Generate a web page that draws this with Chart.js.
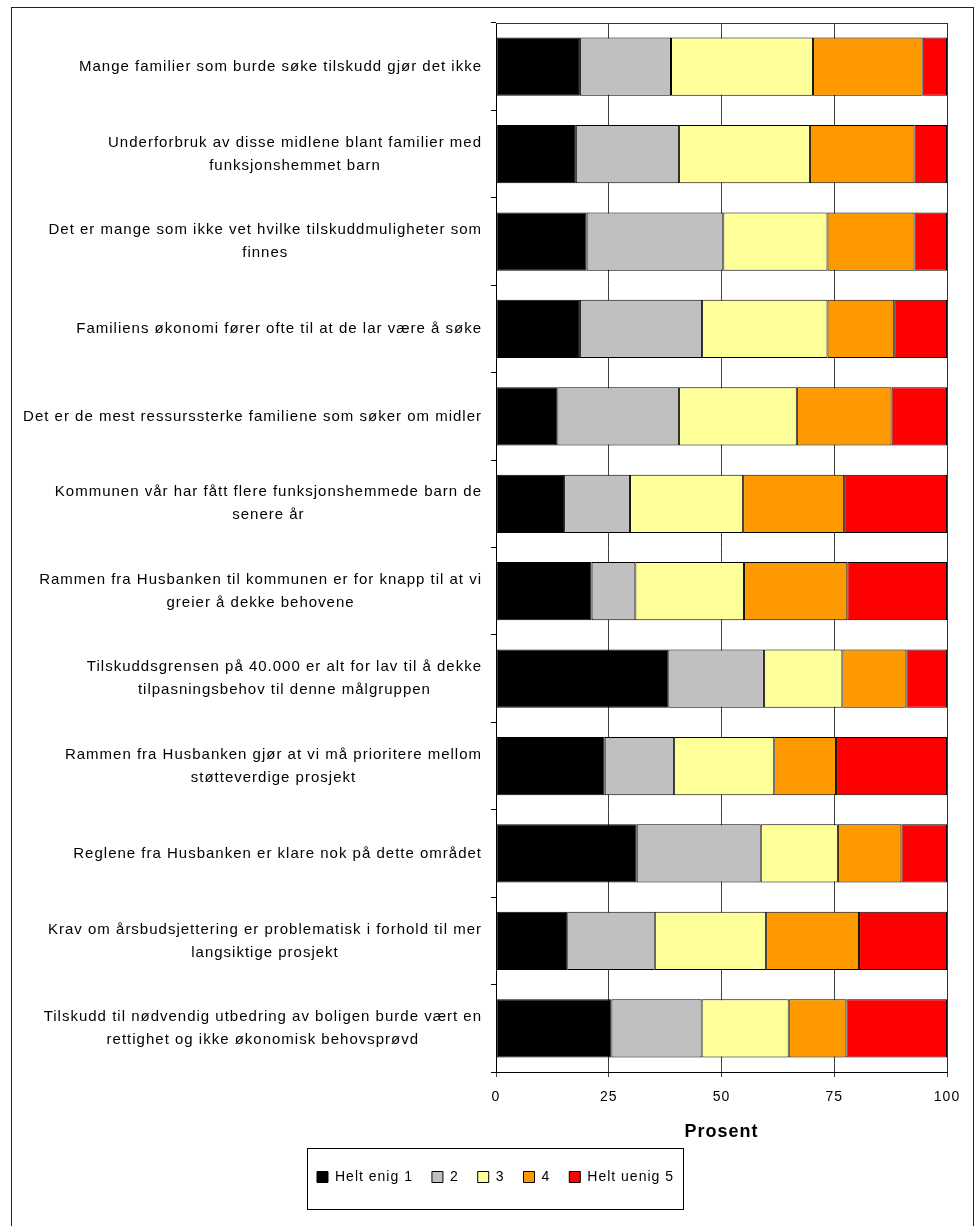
<!DOCTYPE html>
<html>
<head>
<meta charset="utf-8">
<script src="https://cdn.jsdelivr.net/npm/chart.js@4.4.1/dist/chart.umd.min.js"></script>
<style>
  html, body { margin: 0; padding: 0; background: #fff; }
  canvas { display: block; }
</style>
</head>
<body>
<canvas id="myChart" width="976" height="1226"></canvas>
<script>
// Utsagn (kategorier), en linje per element
const kategorier = [
  ["Mange familier som burde søke tilskudd gjør det ikke"],
  ["Underforbruk av disse midlene blant familier med", "funksjonshemmet barn"],
  ["Det er mange som ikke vet hvilke tilskuddmuligheter som", "finnes"],
  ["Familiens økonomi fører ofte til at de lar være å søke"],
  ["Det er de mest ressurssterke familiene som søker om midler"],
  ["Kommunen vår har fått flere funksjonshemmede barn de", "senere år"],
  ["Rammen fra Husbanken til kommunen er for knapp til at vi", "greier å dekke behovene"],
  ["Tilskuddsgrensen på 40.000 er alt for lav til å dekke", "tilpasningsbehov til denne målgruppen"],
  ["Rammen fra Husbanken gjør at vi må prioritere mellom", "støtteverdige prosjekt"],
  ["Reglene fra Husbanken er klare nok på dette området"],
  ["Krav om årsbudsjettering er problematisk i forhold til mer", "langsiktige prosjekt"],
  ["Tilskudd til nødvendig utbedring av boligen burde vært en", "rettighet og ikke økonomisk behovsprøvd"]
];

const serieNavn = ["Helt enig 1", "2", "3", "4", "Helt uenig 5"];
const farger = ["#000000", "#C0C0C0", "#FFFF99", "#FF9900", "#FF0000"];

// Prosent per svaralternativ
const heltEnig1 = [18.6, 17.7, 20.1, 18.6, 13.6, 15.1, 21.2, 38.2, 24.1, 31.2, 15.8, 25.6];
const svar2     = [20.2, 22.9, 30.3, 27.1, 27.0, 14.6,  9.7, 21.2, 15.4, 27.5, 19.4, 20.0];
const svar3     = [31.5, 29.0, 23.1, 27.8, 26.1, 25.1, 24.1, 17.4, 22.2, 17.1, 24.7, 19.3];
const svar4     = [24.3, 23.2, 19.3, 14.8, 21.0, 22.4, 22.9, 14.2, 13.7, 14.1, 20.6, 12.8];
const heltUenig5 = [5.4,  7.2,  7.2, 11.7, 12.3, 22.8, 22.1,  9.0, 24.6, 10.1, 19.5, 22.3];

const xTicks = [0, 25, 50, 75, 100];

const serier = [heltEnig1, svar2, svar3, svar4, heltUenig5];
const ctx = document.querySelector("#myChart");

// letterSpacing for a ligne Excel-teksten litt
const spacing = {
  id: "spacing",
  beforeLayout(chart) { chart.ctx.letterSpacing = "1px"; },
  beforeDraw(chart) { chart.ctx.letterSpacing = "1px"; }
};

// kategoritekster, sentrert linje for linje og høyrejustert mot aksen
const kategoriTekst = {
  id: "kategoriTekst",
  afterDraw(chart) {
    const c = chart.ctx;
    const y = chart.scales.y;
    c.save();
    c.letterSpacing = "1px";
    c.font = "15px 'Liberation Sans', Arial, sans-serif";
    c.fillStyle = "#000";
    c.textAlign = "center";
    c.textBaseline = "middle";
    const right = chart.chartArea.left - 14;
    const lh = 23;
    kategorier.forEach((linjer, i) => {
      const midt = y.getPixelForValue(i);
      const bredde = Math.max(...linjer.map(l => c.measureText(l).width));
      const cx = right - bredde / 2;
      linjer.forEach((l, j) => {
        c.fillText(l, cx, midt + (j - (linjer.length - 1) / 2) * lh);
      });
    });
    c.restore();
  }
};

// ramme rundt plottområde, legende og hele diagrammet
const rammer = {
  id: "rammer",
  afterDatasetsDraw(chart) {
    const c = chart.ctx;
    const a = chart.chartArea;
    c.save();
    c.strokeStyle = "#333";
    c.lineWidth = 1;
    c.beginPath();
    c.moveTo(a.left, Math.round(a.top) + 0.5);
    c.lineTo(Math.round(a.right) + 0.5, Math.round(a.top) + 0.5);
    c.lineTo(Math.round(a.right) + 0.5, a.bottom);
    c.stroke();
    c.restore();
  },
  afterDraw(chart) {
    const c = chart.ctx;
    c.save();
    c.strokeStyle = "#222";
    c.lineWidth = 1;
    c.strokeRect(11.5, 7.5, 962, 1240);
    const hb = chart.legend.legendHitBoxes;
    if (hb && hb.length) {
      const first = hb[0], last = hb[hb.length - 1];
      const cy = first.top + first.height / 2;
      const l = Math.round(first.left - 10) + 0.5;
      const r = Math.round(last.left + last.width + 9) + 0.5;
      const t = Math.round(cy - 29) + 0.5;
      const b = Math.round(cy + 32) + 0.5;
      c.strokeStyle = "#000";
      c.strokeRect(l, t, r - l, b - t);
    }
    c.restore();
  }
};

new Chart(ctx, {
  type: "bar",
  data: {
    labels: kategorier.map(k => k.join(" ")),
    datasets: serier.map((d, i) => ({
      label: serieNavn[i],
      data: d,
      backgroundColor: farger[i],
      borderColor: "#000",
      borderWidth: 1,
      borderSkipped: false,
      barPercentage: 0.667,
      categoryPercentage: 1
    }))
  },
  options: {
    indexAxis: "y",
    responsive: false,
    animation: false,
    devicePixelRatio: 1,
    layout: { padding: { left: 44, right: 29, top: 23, bottom: 32 } },
    plugins: {
      tooltip: { enabled: false },
      legend: {
        position: "bottom",
        labels: {
          color: "#000",
          font: { family: "'Liberation Sans', Arial, sans-serif", size: 14 },
          boxWidth: 11,
          boxHeight: 11,
          padding: 19
        }
      }
    },
    scales: {
      x: {
        stacked: true,
        min: 0,
        max: 100,
        afterBuildTicks: (s) => { s.ticks = xTicks.map(v => ({ value: v })); },
        ticks: {
          color: "#000",
          padding: 12,
          maxRotation: 0,
          font: { family: "'Liberation Sans', Arial, sans-serif", size: 14 }
        },
        grid: { color: "#404040", lineWidth: 1, tickLength: 5 },
        border: { color: "#000" },
        title: {
          display: true,
          text: "Prosent",
          color: "#000",
          padding: { top: 0, bottom: 8 },
          font: { family: "'Liberation Sans', Arial, sans-serif", size: 18, weight: "bold" }
        },
        afterFit: (s) => { s.height = 79; }
      },
      y: {
        stacked: true,
        ticks: { display: false },
        grid: { drawOnChartArea: false, color: "#000", tickLength: 5, offset: true },
        border: { color: "#000" },
        afterFit: (s) => { s.width = 452; }
      }
    }
  },
  plugins: [spacing, kategoriTekst, rammer]
});
</script>
</body>
</html>
